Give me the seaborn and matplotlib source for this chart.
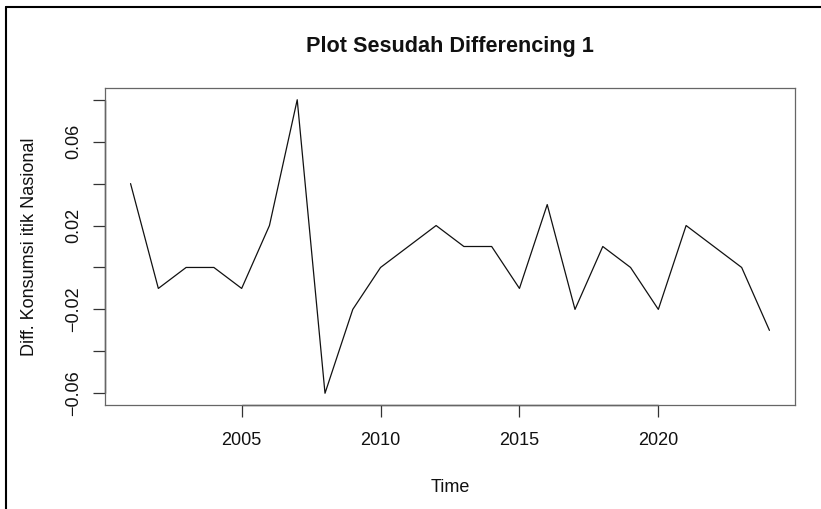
import numpy as np
import pandas as pd
import seaborn as sns
import matplotlib.pyplot as plt
from matplotlib.lines import Line2D

# data (first difference)
tahun = list(range(2001, 2025))
diff1 = [0.04, -0.01, 0.00, 0.00, -0.01, 0.02, 0.08, -0.06, -0.02, 0.00,
         0.01, 0.02, 0.01, 0.01, -0.01, 0.03, -0.02, 0.01, 0.00, -0.02,
         0.02, 0.01, 0.00, -0.03]
xticks = [2005, 2010, 2015, 2020]
yticks = [-0.06, -0.04, -0.02, 0.00, 0.02, 0.04, 0.06, 0.08]
ylabels = ["\u22120.06", "", "\u22120.02", "", "0.02", "", "0.06", ""]

df = pd.DataFrame({"Time": tahun, "diff": diff1})

sns.set_style("ticks")
plt.rcParams["font.family"] = ["Liberation Sans", "DejaVu Sans"]

fig = plt.figure(figsize=(8.21, 5.09), dpi=100)
# plot region 105..795 px wide, 88..405 px tall
ax = fig.add_axes([105 / 821, 1 - 405 / 509, 690 / 821, 317 / 509])

sns.lineplot(data=df, x="Time", y="diff", color="#111111", linewidth=0.9, ax=ax)

# R style limits (4% padding)
xr = max(tahun) - min(tahun)
yr = max(diff1) - min(diff1)
ax.set_xlim(min(tahun) - 0.04 * xr, max(tahun) + 0.04 * xr)
ax.set_ylim(min(diff1) - 0.04 * yr, max(diff1) + 0.04 * yr)

ax.set_xticks(xticks)
ax.set_xticklabels([str(t) for t in xticks])
ax.set_yticks(yticks)
ax.set_yticklabels(ylabels, rotation=90, va="center")
ax.tick_params(axis="both", direction="out", length=8.5, width=0.9,
               color="#333333", labelsize=13, labelcolor="#111111")
ax.tick_params(axis="x", pad=11)
ax.tick_params(axis="y", pad=8)

for s in ax.spines.values():
    s.set_visible(True)
    s.set_color("#666666")
    s.set_linewidth(0.9)

# axis lines from first to last tick, like base R
ax.plot([xticks[0], xticks[-1]], [0, 0], transform=ax.get_xaxis_transform(),
        color="#333333", lw=1.0, clip_on=False)
ax.plot([0, 0], [yticks[0], yticks[-1]], transform=ax.get_yaxis_transform(),
        color="#333333", lw=1.0, clip_on=False)

ax.set_xlabel("Time", fontsize=13, color="#111111")
ax.xaxis.set_label_coords(0.5, -(479 - 405) / 317)
ax.set_ylabel("Diff. Konsumsi itik Nasional", fontsize=13, color="#111111")
ax.yaxis.set_label_coords(-(105 - 38) / 690, 0.5)
ax.set_title("Plot Sesudah Differencing 1", fontsize=15.6, fontweight="bold",
             color="#111111", pad=26)

# window frame visible at left and top of the screenshot
fig.add_artist(Line2D([5.5 / 821, 5.5 / 821], [0, 1 - 6.5 / 509], color="black", lw=1.5))
fig.add_artist(Line2D([5.5 / 821, 1], [1 - 6.5 / 509, 1 - 6.5 / 509], color="black", lw=1.5))

fig.savefig("out.png", dpi=100)
